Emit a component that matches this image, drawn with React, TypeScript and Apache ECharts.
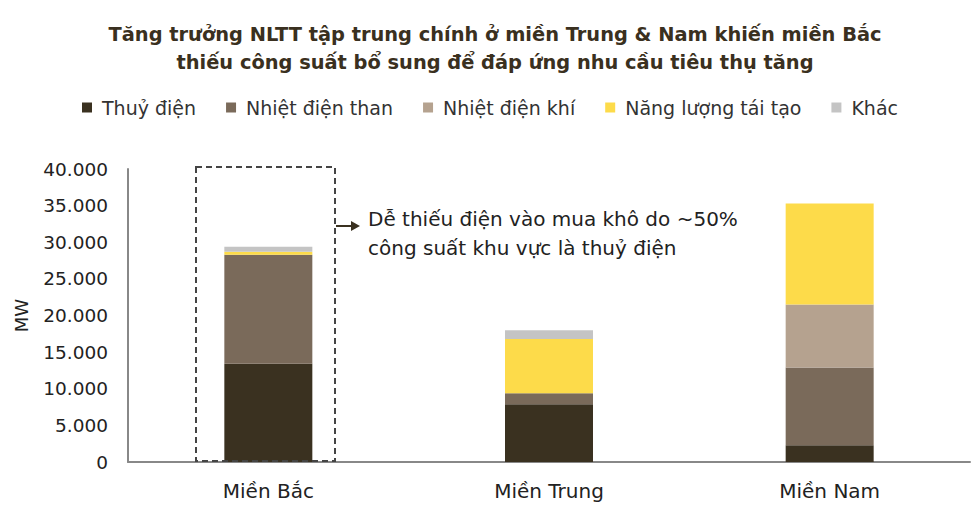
import React, { useEffect, useRef } from "react";
import * as echarts from "echarts";

const categories = ["Miền Bắc", "Miền Trung", "Miền Nam"];
const seriesNames = ["Thuỷ điện", "Nhiệt điện than", "Nhiệt điện khí", "Năng lượng tái tạo", "Khác"];
const thuyDien = [13400, 7900, 2300];
const nhietDienThan = [14900, 1500, 10600];
const nhietDienKhi = [0, 0, 8600];
const nangLuongTaiTao = [400, 7400, 13800];
const khac = [700, 1200, 0];
const colors = ["#3a3120", "#7a6a5a", "#b5a28f", "#fddb4a", "#c4c4c4"];

const FONT = "'DejaVu Sans', sans-serif";

export default function App() {
  const ref = useRef<HTMLDivElement>(null);
  useEffect(() => {
    if (!ref.current) return;
    const chart = echarts.init(ref.current, null, { renderer: "svg" });
    const values = [thuyDien, nhietDienThan, nhietDienKhi, nangLuongTaiTao, khac];
    chart.setOption({
      animation: false,
      textStyle: { fontFamily: FONT },
      title: {
        text: "Tăng trưởng NLTT tập trung chính ở miền Trung & Nam khiến miền Bắc\nthiếu công suất bổ sung để đáp ứng nhu cầu tiêu thụ tăng",
        left: 490,
        top: 15,
        textAlign: "center",
        textStyle: {
          fontFamily: FONT,
          fontSize: 19.4,
          fontWeight: "bold",
          color: "#3a3020",
          lineHeight: 28,
        },
      },
      legend: {
        top: 93,
        left: "center",
        icon: "rect",
        itemWidth: 10,
        itemHeight: 10,
        itemGap: 30,
        textStyle: { fontFamily: FONT, fontSize: 19, color: "#333", padding: [0, 0, 0, 5] },
        data: seriesNames,
      },
      grid: { left: 128, right: 10, top: 169, bottom: 53 },
      xAxis: {
        type: "category",
        data: categories,
        axisLine: { lineStyle: { color: "#888", width: 2 } },
        axisTick: { show: false },
        axisLabel: { fontFamily: FONT, fontSize: 20, color: "#222", margin: 19 },
      },
      yAxis: {
        type: "value",
        min: 0,
        max: 40000,
        interval: 5000,
        name: "MW",
        nameLocation: "middle",
        nameGap: 98,
        nameTextStyle: { fontFamily: FONT, fontSize: 18, color: "#222" },
        axisLine: { show: true, lineStyle: { color: "#888", width: 2 } },
        axisTick: { show: false },
        splitLine: { show: false },
        axisLabel: {
          fontFamily: FONT,
          fontSize: 18.5,
          color: "#222",
          margin: 20,
          formatter: (v: number) => v.toLocaleString("de-DE"),
        },
      },
      series: seriesNames.map((name, i) => ({
        name,
        type: "bar",
        stack: "total",
        barWidth: 88,
        itemStyle: { color: colors[i] },
        data: values[i],
      })),
      graphic: [
        {
          type: "rect",
          shape: { x: 196, y: 167, width: 139, height: 294 },
          style: { fill: "none", stroke: "#444", lineWidth: 2, lineDash: [6, 4] },
          z: 10,
        },
        {
          type: "line",
          shape: { x1: 336, y1: 226, x2: 352, y2: 226 },
          style: { stroke: "#3a3120", lineWidth: 2 },
        },
        {
          type: "polygon",
          shape: { points: [[351, 221], [360, 226], [351, 231]] },
          style: { fill: "#3a3120" },
        },
        {
          type: "text",
          x: 368,
          y: 204,
          style: {
            text: "Dễ thiếu điện vào mua khô do ~50%\ncông suất khu vực là thuỷ điện",
            fontFamily: FONT,
            fontSize: 20,
            lineHeight: 29,
            fill: "#222",
          },
        },
      ],
    });
    return () => chart.dispose();
  }, []);
  return <div ref={ref} style={{ width: 980, height: 515, position: "absolute", left: 0, top: 0 }} />;
}
